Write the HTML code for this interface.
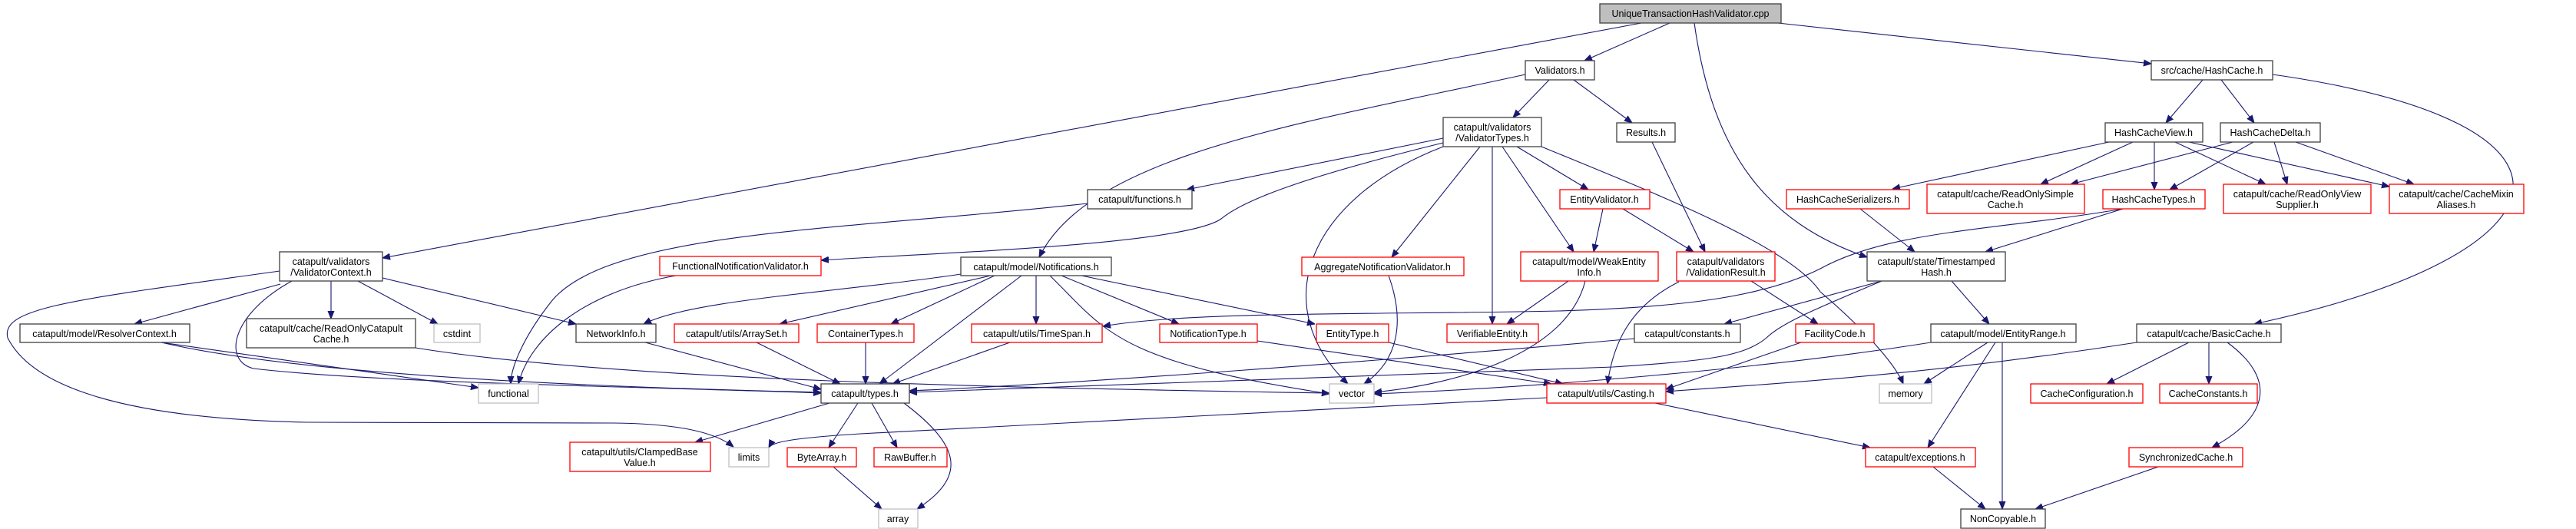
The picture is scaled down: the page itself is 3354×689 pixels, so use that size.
<!DOCTYPE html>
<html><head><meta charset="utf-8"><style>
html,body{margin:0;padding:0;background:#fff;}
svg{display:block;}
text{font-family:"Liberation Sans",Arial,sans-serif;font-size:12.5px;fill:#000;text-anchor:middle;}
.b{fill:#fff;stroke:#404040;stroke-width:1.3;}
.r{fill:#fff;stroke:#ff0000;stroke-width:1.3;}
.g{fill:#fff;stroke:#bfbfbf;stroke-width:1.3;}
.e{fill:none;stroke:#191970;stroke-width:1.1;}
</style></head><body>
<svg width="3354" height="689" viewBox="0 0 3354 689" xmlns="http://www.w3.org/2000/svg">
<defs><marker id="a" viewBox="0 0 10 10" refX="10" refY="5" markerWidth="10" markerHeight="10" markerUnits="userSpaceOnUse" orient="auto"><path d="M0,1 L10,5 L0,9 z" fill="#191970" stroke="#191970"/></marker></defs>
<g class="e" marker-end="url(#a)">
<path d="M2137,30 L498,336"/>
<path d="M2174,30 L2063,79"/>
<path d="M2206,30 C2230,200 2300,290 2431,335"/>
<path d="M2315,30 L2801,83"/>
<path d="M2017,104 L1970,153"/>
<path d="M2049,104 L2125,160"/>
<path d="M1986,97 C1700,160 1420,200 1353,335"/>
<path d="M2868,104 L2820,160"/>
<path d="M2892,104 L2935,160"/>
<path d="M2959,97 C3400,160 3360,330 2935,422"/>
<path d="M2746,185 L2464,246"/>
<path d="M2777,185 L2657,240"/>
<path d="M2805,185 L2805,247"/>
<path d="M2832,185 L2950,240"/>
<path d="M2850,185 L3111,243"/>
<path d="M2907,185 L2696,240"/>
<path d="M2934,185 L2825,247"/>
<path d="M2961,185 L2978,240"/>
<path d="M2989,185 L3143,240"/>
<path d="M1879,180 L1545,247"/>
<path d="M1879,186 C1700,230 1620,260 1590,285 C1540,320 1200,330 1069,339"/>
<path d="M1879,191 C1700,260 1650,400 1755,500"/>
<path d="M1927,191 L1812,335"/>
<path d="M1943,191 L1943,422"/>
<path d="M1956,191 L2049,328"/>
<path d="M1975,191 L2068,247"/>
<path d="M2007,191 C2150,250 2330,320 2370,380 C2440,440 2470,480 2478,500"/>
<path d="M1416,265 C1100,300 800,300 720,390 C680,440 665,480 665,500"/>
<path d="M880,359 C760,380 690,440 675,500"/>
<path d="M2087,272 L2075,328"/>
<path d="M2113,272 L2205,328"/>
<path d="M2151,185 L2220,328"/>
<path d="M365,370 L175,422"/>
<path d="M431,366 L431,415"/>
<path d="M466,366 L570,422"/>
<path d="M498,362 L750,422"/>
<path d="M380,366 C300,410 290,470 330,480 C500,500 900,505 1069,512"/>
<path d="M364,353 C100,390 0,400 10,440 C40,500 150,545 400,550 L800,551 C880,552 930,562 955,582"/>
<path d="M210,446 L623,505"/>
<path d="M210,446 C400,490 800,505 1069,511"/>
<path d="M541,453 C800,495 1300,505 1731,512"/>
<path d="M840,446 L1069,507"/>
<path d="M1251,357 C1100,380 900,390 838,422"/>
<path d="M1290,359 L1015,422"/>
<path d="M1295,359 L1160,422"/>
<path d="M1330,359 L1145,500"/>
<path d="M1349,359 L1349,422"/>
<path d="M1367,359 C1440,430 1450,470 1731,513"/>
<path d="M1382,359 L1535,422"/>
<path d="M1408,359 L1712,422"/>
<path d="M985,446 L1094,500"/>
<path d="M1127,446 L1127,500"/>
<path d="M1315,446 L1162,500"/>
<path d="M1637,444 L2020,500"/>
<path d="M1808,446 L2035,500"/>
<path d="M1808,359 C1830,420 1820,470 1776,500"/>
<path d="M2042,366 L1962,422"/>
<path d="M2064,366 C2040,460 1900,500 1789,511"/>
<path d="M2186,367 C2120,400 2100,450 2093,500"/>
<path d="M2280,366 L2367,422"/>
<path d="M2764,272 C2600,300 2460,300 2370,350 C2300,385 2200,400 2030,405 C1800,410 1550,405 1436,425"/>
<path d="M2764,272 L2585,328"/>
<path d="M2422,272 L2493,328"/>
<path d="M2450,366 L2245,422"/>
<path d="M2450,366 C2370,400 2320,420 2300,440 C2270,465 2220,470 2100,478 C1700,495 1400,505 1184,511"/>
<path d="M2541,366 L2590,422"/>
<path d="M2128,441 C1800,470 1400,500 1184,509"/>
<path d="M2345,446 L2169,507"/>
<path d="M2514,446 C2300,480 2000,505 1789,513"/>
<path d="M2588,446 L2505,500"/>
<path d="M2598,446 L2510,583"/>
<path d="M2607,446 L2607,663"/>
<path d="M2782,446 C2500,490 2300,500 2169,510"/>
<path d="M2850,446 L2743,500"/>
<path d="M2876,446 L2876,500"/>
<path d="M2900,446 C2960,490 2960,540 2880,583"/>
<path d="M2014,518 L1120,565 C1040,570 1005,575 1001,583"/>
<path d="M2155,525 L2435,583"/>
<path d="M1080,525 L905,576"/>
<path d="M1117,525 L1079,583"/>
<path d="M1135,525 L1168,583"/>
<path d="M1177,525 C1250,580 1260,620 1194,663"/>
<path d="M1085,608 L1148,663"/>
<path d="M2517,608 L2585,663"/>
<path d="M2810,608 L2650,663"/>
</g>
<rect x="2083" y="5" width="236" height="25" fill="#bfbfbf" stroke="#404040" stroke-width="1.3"/><text x="2201" y="22">UniqueTransactionHashValidator.cpp</text>
<rect class="b" x="1986" y="79" width="90" height="25"/><text x="2031" y="96">Validators.h</text>
<rect class="b" x="2801" y="79" width="158" height="25"/><text x="2880" y="96">src/cache/HashCache.h</text>
<rect class="b" x="1879" y="153" width="128" height="38"/><text x="1943" y="170">catapult/validators</text><text x="1943" y="184">/ValidatorTypes.h</text>
<rect class="b" x="2105" y="160" width="76" height="25"/><text x="2143" y="177">Results.h</text>
<rect class="b" x="2741" y="160" width="127" height="25"/><text x="2804" y="177">HashCacheView.h</text>
<rect class="b" x="2891" y="160" width="130" height="25"/><text x="2956" y="177">HashCacheDelta.h</text>
<rect class="b" x="1416" y="247" width="136" height="25"/><text x="1484" y="264">catapult/functions.h</text>
<rect class="r" x="2031" y="247" width="117" height="25"/><text x="2089" y="264">EntityValidator.h</text>
<rect class="r" x="2326" y="247" width="160" height="25"/><text x="2406" y="264">HashCacheSerializers.h</text>
<rect class="r" x="2509" y="240" width="205" height="38"/><text x="2611" y="257">catapult/cache/ReadOnlySimple</text><text x="2611" y="271">Cache.h</text>
<rect class="r" x="2738" y="247" width="133" height="25"/><text x="2804" y="264">HashCacheTypes.h</text>
<rect class="r" x="2895" y="240" width="192" height="38"/><text x="2991" y="257">catapult/cache/ReadOnlyView</text><text x="2991" y="271">Supplier.h</text>
<rect class="r" x="3111" y="240" width="175" height="38"/><text x="3198" y="257">catapult/cache/CacheMixin</text><text x="3198" y="271">Aliases.h</text>
<rect class="b" x="364" y="328" width="134" height="38"/><text x="431" y="345">catapult/validators</text><text x="431" y="359">/ValidatorContext.h</text>
<rect class="r" x="859" y="334" width="210" height="25"/><text x="964" y="351">FunctionalNotificationValidator.h</text>
<rect class="b" x="1251" y="335" width="196" height="24"/><text x="1349" y="352">catapult/model/Notifications.h</text>
<rect class="r" x="1695" y="335" width="211" height="24"/><text x="1800" y="352">AggregateNotificationValidator.h</text>
<rect class="r" x="1980" y="328" width="179" height="38"/><text x="2069" y="345">catapult/model/WeakEntity</text><text x="2069" y="359">Info.h</text>
<rect class="r" x="2183" y="328" width="128" height="38"/><text x="2247" y="345">catapult/validators</text><text x="2247" y="359">/ValidationResult.h</text>
<rect class="b" x="2431" y="328" width="180" height="38"/><text x="2521" y="345">catapult/state/Timestamped</text><text x="2521" y="359">Hash.h</text>
<rect class="b" x="26" y="422" width="221" height="24"/><text x="136" y="439">catapult/model/ResolverContext.h</text>
<rect class="b" x="321" y="415" width="220" height="38"/><text x="431" y="432">catapult/cache/ReadOnlyCatapult</text><text x="431" y="446">Cache.h</text>
<rect class="g" x="565" y="422" width="60" height="24"/><text x="595" y="439">cstdint</text>
<rect class="b" x="750" y="422" width="104" height="24"/><text x="802" y="439">NetworkInfo.h</text>
<rect class="r" x="878" y="422" width="162" height="24"/><text x="959" y="439">catapult/utils/ArraySet.h</text>
<rect class="r" x="1064" y="422" width="126" height="24"/><text x="1127" y="439">ContainerTypes.h</text>
<rect class="r" x="1265" y="422" width="170" height="24"/><text x="1350" y="439">catapult/utils/TimeSpan.h</text>
<rect class="r" x="1510" y="422" width="127" height="24"/><text x="1573" y="439">NotificationType.h</text>
<rect class="r" x="1714" y="422" width="94" height="24"/><text x="1761" y="439">EntityType.h</text>
<rect class="r" x="1884" y="422" width="119" height="24"/><text x="1943" y="439">VerifiableEntity.h</text>
<rect class="b" x="2128" y="422" width="138" height="24"/><text x="2197" y="439">catapult/constants.h</text>
<rect class="r" x="2338" y="422" width="102" height="24"/><text x="2389" y="439">FacilityCode.h</text>
<rect class="b" x="2514" y="422" width="189" height="24"/><text x="2608" y="439">catapult/model/EntityRange.h</text>
<rect class="b" x="2782" y="422" width="188" height="24"/><text x="2876" y="439">catapult/cache/BasicCache.h</text>
<rect class="g" x="623" y="500" width="78" height="25"/><text x="662" y="517">functional</text>
<rect class="b" x="1069" y="500" width="115" height="25"/><text x="1126" y="517">catapult/types.h</text>
<rect class="g" x="1731" y="500" width="58" height="25"/><text x="1760" y="517">vector</text>
<rect class="r" x="2014" y="500" width="155" height="25"/><text x="2091" y="517">catapult/utils/Casting.h</text>
<rect class="g" x="2447" y="500" width="68" height="25"/><text x="2481" y="517">memory</text>
<rect class="r" x="2644" y="500" width="146" height="25"/><text x="2717" y="517">CacheConfiguration.h</text>
<rect class="r" x="2812" y="500" width="127" height="25"/><text x="2875" y="517">CacheConstants.h</text>
<rect class="r" x="742" y="576" width="183" height="38"/><text x="833" y="593">catapult/utils/ClampedBase</text><text x="833" y="607">Value.h</text>
<rect class="g" x="949" y="583" width="52" height="25"/><text x="975" y="600">limits</text>
<rect class="r" x="1025" y="583" width="90" height="25"/><text x="1070" y="600">ByteArray.h</text>
<rect class="r" x="1138" y="583" width="95" height="25"/><text x="1185" y="600">RawBuffer.h</text>
<rect class="r" x="2429" y="583" width="143" height="25"/><text x="2500" y="600">catapult/exceptions.h</text>
<rect class="r" x="2772" y="583" width="148" height="25"/><text x="2846" y="600">SynchronizedCache.h</text>
<rect class="g" x="1144" y="663" width="51" height="25"/><text x="1169" y="680">array</text>
<rect class="b" x="2553" y="663" width="110" height="25"/><text x="2608" y="680">NonCopyable.h</text>
</svg>
</body></html>
